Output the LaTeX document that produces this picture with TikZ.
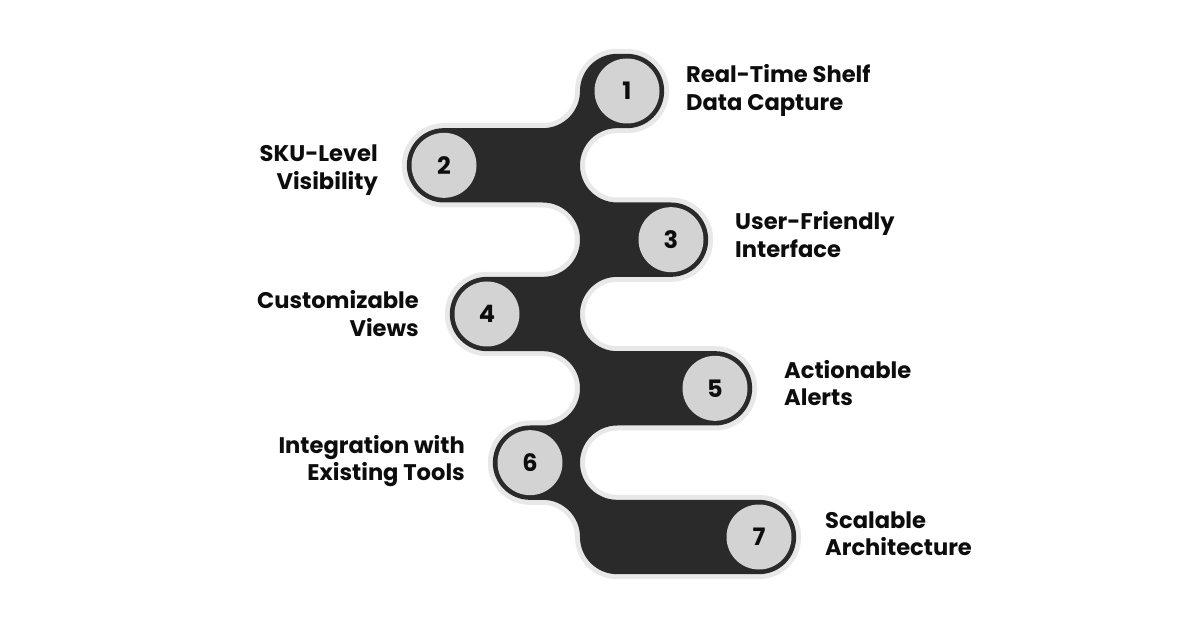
\documentclass[tikz,border=0pt]{standalone}
\usepackage{fontspec}
\newfontfamily\labfont{Poppins Bold}
\newfontfamily\numfont{Poppins Bold}
\definecolor{darkc}{HTML}{2A2A2A}
\definecolor{ringc}{HTML}{E8E8E8}
\definecolor{discc}{HTML}{D3D3D3}
\definecolor{txtc}{HTML}{0D0D0D}
\begin{document}
\begin{tikzpicture}[x=1pt,y=1pt,
  numdisc/.style={circle, fill=discc, minimum size=65pt, inner sep=0pt,
    font=\numfont\fontsize{24}{24}\selectfont, text=txtc},
  lblr/.style={anchor=base west, align=left, inner sep=0pt, text=txtc,
    font=\labfont\fontsize{22.6}{27.5}\selectfont},
  lbll/.style={anchor=base east, align=right, inner sep=0pt, text=txtc,
    font=\labfont\fontsize{22.6}{27.5}\selectfont}]
\def\myr{37.17}
\def\xR{617.17}
\def\xL{542.83}
\def\Ya{539}\def\Yb{464.67}\def\Yc{390.33}\def\Yd{316}
\def\Ye{241.67}\def\Yf{167.33}\def\Yg{93}
\def\Xa{627}\def\Xb{444}\def\Xc{671}\def\Xd{487}
\def\Xe{715}\def\Xf{530}\def\Xg{759}
\fill[white] (0,0) rectangle (1200,630);
\useasboundingbox (0,0) rectangle (1200,630);
\path[fill=darkc, preaction={draw=ringc, line width=10pt}]
 (\xR,{\Ya+\myr}) -- (\Xa,{\Ya+\myr}) arc[start angle=90,end angle=-90,radius=\myr]
 -- (\xR,{\Yb+\myr}) arc[start angle=90,end angle=270,radius=\myr]
 -- (\Xc,{\Yc+\myr}) arc[start angle=90,end angle=-90,radius=\myr]
 -- (\xR,{\Yd+\myr}) arc[start angle=90,end angle=270,radius=\myr]
 -- (\Xe,{\Ye+\myr}) arc[start angle=90,end angle=-90,radius=\myr]
 -- (\xR,{\Yf+\myr}) arc[start angle=90,end angle=270,radius=\myr]
 -- (\Xg,{\Yg+\myr}) arc[start angle=90,end angle=-90,radius=\myr]
 -- (\xR,{\Yg-\myr}) arc[start angle=270,end angle=180,radius=\myr]
    arc[start angle=0,end angle=90,radius=\myr]
 -- (\Xf,{\Yf-\myr}) arc[start angle=270,end angle=90,radius=\myr]
 -- (\xL,{\Ye-\myr}) arc[start angle=-90,end angle=90,radius=\myr]
 -- (\Xd,{\Yd-\myr}) arc[start angle=270,end angle=90,radius=\myr]
 -- (\xL,{\Yc-\myr}) arc[start angle=-90,end angle=90,radius=\myr]
 -- (\Xb,{\Yb-\myr}) arc[start angle=270,end angle=90,radius=\myr]
 -- (\xL,{\Ya-\myr}) arc[start angle=-90,end angle=0,radius=\myr]
    arc[start angle=180,end angle=90,radius=\myr] -- cycle;
\node[numdisc] (n1) at (\Xa,\Ya) {1};
\node[numdisc] (n2) at (\Xb,\Yb) {2};
\node[numdisc] (n3) at (\Xc,\Yc) {3};
\node[numdisc] (n4) at (\Xd,\Yd) {4};
\node[numdisc] (n5) at (\Xe,\Ye) {5};
\node[numdisc] (n6) at (\Xf,\Yf) {6};
\node[numdisc] (n7) at (\Xg,\Yg) {7};
\node[lblr] (t1) at (686,519.5) {Real-Time Shelf\\Data Capture};
\node[lbll] (t2) at (378,440.5) {SKU-Level\\Visibility};
\node[lblr] (t3) at (735,372.5) {User-Friendly\\Interface};
\node[lbll] (t4) at (419,293.5) {Customizable\\Views};
\node[lblr] (t5) at (784,224.5) {Actionable\\Alerts};
\node[lbll] (t6) at (465,149.5) {Integration with\\Existing Tools};
\node[lblr] (t7) at (825,74.5) {Scalable\\Architecture};
\end{tikzpicture}
\end{document}
